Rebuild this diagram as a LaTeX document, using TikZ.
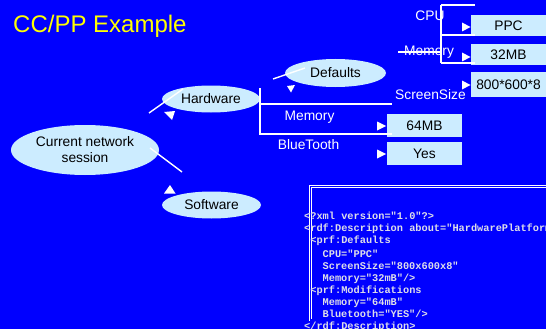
\documentclass[tikz,border=0pt]{standalone}
\usepackage{fontspec}
\setmainfont{Liberation Sans}
\setmonofont{Liberation Mono}
\usetikzlibrary{shapes.geometric}
\definecolor{bg}{RGB}{0,0,255}
\definecolor{lb}{RGB}{204,236,255}
\definecolor{codegray}{RGB}{222,222,232}
\definecolor{titley}{RGB}{255,255,0}
\begin{document}
\begin{tikzpicture}[x=1pt,y=-1pt,
  oval/.style={ellipse, fill=lb, draw=none, inner sep=0pt, text=black, align=center,
    font=\fontsize{13.8}{16}\selectfont},
  valbox/.style={rectangle, fill=lb, draw=none, inner sep=0pt, text=black,
    minimum width=75pt, font=\fontsize{13.8}{16}\selectfont},
  lbl/.style={anchor=base, inner sep=0pt, text=white, font=\fontsize{13.8}{16}\selectfont},
  wline/.style={draw=white, line width=1.4pt},
  tri/.style={fill=white, draw=none},
  codeline/.style={anchor=base west, inner sep=0pt, text=codegray,
    font=\fontsize{10.3}{12}\selectfont\ttfamily\bfseries}]
\fill[bg] (0,0) rectangle (546,329);
\useasboundingbox (0,0) rectangle (546,329);
\clip (0,0) rectangle (546,329);

% title
\node[anchor=base west, inner sep=0pt, text=titley, font=\fontsize{24}{28}\selectfont] (title) at (13,33) {CC/PP Example};

% ellipses
\node[oval, minimum width=148pt, minimum height=50pt] (cns) at (85,150) {Current network\\session};
\node[oval, minimum width=98pt, minimum height=27pt] (hw) at (211,99) {Hardware};
\node[oval, minimum width=99pt, minimum height=27pt] (sw) at (211.5,205) {Software};
\node[oval, minimum width=101pt, minimum height=28pt] (def) at (335.5,73) {Defaults};

% free-end coordinates of connectors
\coordinate (hwA) at (149,113);
\coordinate (hwB) at (183,89);
\coordinate (swA) at (150,148);
\coordinate (swB) at (182,172);
\coordinate (dfA) at (273,79);
\coordinate (dfB) at (305,68);
\draw[wline] (hwA) -- (hwB);
\draw[wline] (swA) -- (swB);
\draw[wline] (dfA) -- (dfB);

% arrowheads
\fill[tri] (164,112) -- (175,111) -- (172,120) -- cycle;
\fill[tri] (164,193.5) -- (170,185) -- (175.5,193.5) -- cycle;
\fill[tri] (287,86) -- (295,85) -- (291,92.5) -- cycle;

% value boxes
\node[valbox, minimum height=23pt] (m64) at (424.5,125.5) {64MB};
\node[valbox, minimum height=23pt] (yes) at (424.5,153.5) {Yes};
\node[valbox, minimum height=21pt] (ppc) at (508.5,26) {PPC};
\node[valbox, minimum height=21pt] (m32) at (508.5,54.5) {32MB};
\node[valbox, minimum height=25pt] (scr) at (508.5,84.5) {800*600*8};

% hardware bracket
\coordinate (hb1) at (260,88);
\coordinate (hb2) at (260,135);
\coordinate (hm1) at (260,104);
\coordinate (hm2) at (392,104);
\coordinate (hn1) at (260,134);
\coordinate (hn2) at (392,134);
\draw[wline] (hb1) -- (hb2);
\draw[wline] (hm1) -- (hm2);
\draw[wline] (hn1) -- (hn2);

% defaults bracket
\coordinate (db1) at (441,5);
\coordinate (db2) at (441,63);
\coordinate (dt2) at (475,5);
\coordinate (dm1) at (441,35);
\coordinate (dm2) at (475,35);
\coordinate (dn2) at (475,63);
\coordinate (ds1) at (398,52);
\coordinate (ds2) at (441,52);
\draw[wline] (db1) -- (db2);
\draw[wline] (db1) -- (dt2);
\draw[wline] (dm1) -- (dm2);
\draw[wline] (db2) -- (dn2);

% labels
\node[lbl] (lcpu) at (430,21) {CPU};
\node[lbl] (lmem1) at (429,55.5) {Memory};
\draw[wline] (ds1) -- (ds2);
\node[lbl] (lscr) at (430.5,99.5) {ScreenSize};
\node[lbl] (lmem2) at (309.5,120) {Memory};
\node[lbl] (lbt) at (308.5,149.5) {BlueTooth};

% value arrowheads
\fill[tri] (377,121.5) -- (386,126) -- (377,130.5) -- cycle;
\fill[tri] (377,149.5) -- (386,154) -- (377,158.5) -- cycle;
\fill[tri] (462,22.5) -- (470.5,27) -- (462,31.5) -- cycle;
\fill[tri] (462,52.5) -- (470.5,57) -- (462,61.5) -- cycle;
\fill[tri] (462,80.5) -- (470.5,85) -- (462,89.5) -- cycle;

% code box
\draw[draw=white, line width=0.8pt, double=bg, double distance=1.2pt] (310.5,186.5) rectangle (600,320);
\node[codeline] (c1) at (304,219) {<?xml version="1.0"?>};
\node[codeline] (c2) at (304,231) {<rdf:Description about="HardwarePlatform">};
\node[codeline] (c3) at (310.2,243) {<prf:Defaults};
\node[codeline] (c4) at (322.5,257) {CPU="PPC"};
\node[codeline] (c5) at (322.5,269) {ScreenSize="800x600x8"};
\node[codeline] (c6) at (322.5,281) {Memory="32mB"/>};
\node[codeline] (c7) at (310.2,293) {<prf:Modifications};
\node[codeline] (c8) at (322.5,305) {Memory="64mB"};
\node[codeline] (c9) at (322.5,317) {Bluetooth="YES"/>};
\node[codeline] (c10) at (304,329) {</rdf:Description>};
\end{tikzpicture}
\end{document}
